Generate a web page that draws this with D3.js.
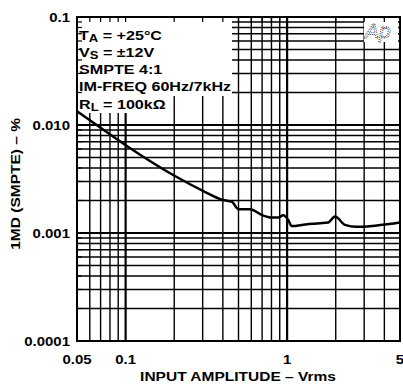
<!DOCTYPE html>
<html>
<head>
<meta charset="utf-8">
<script src="https://cdn.jsdelivr.net/npm/d3@7"></script>
<style>
  body { margin: 0; background: #fff; }
  svg { display: block; }
  text { font-family: "Liberation Sans", Arial, sans-serif; font-weight: bold; fill: #000; }
</style>
</head>
<body>
<div class="chart"></div>
<script>
// curve
const ampVrms = [0.05, 0.0662, 0.1034, 0.202, 0.301, 0.401, 0.454, 0.5, 0.589, 0.696, 0.803, 0.882, 0.947, 1.016, 1.067, 1.3, 1.6, 1.798, 1.98, 2.28, 2.7, 3.5, 4.3, 5];
const imdPct  = [0.0134, 0.0100, 0.0063, 0.00337, 0.00246, 0.00202, 0.00195, 0.00166, 0.00166, 0.00147, 0.00139, 0.00139, 0.00146, 0.00132, 0.00116, 0.0012, 0.00123, 0.00125, 0.00142, 0.00119, 0.00114, 0.00117, 0.00121, 0.00125];

// axis labels
const xTickVals = [0.05, 0.1, 1, 5];
const xTickText = ["0.05", "0.1", "1", "5"];
const yTickVals = [0.0001, 0.001, 0.01, 0.1];
const yTickText = ["0.0001", "0.001", "0.010", "0.1"];

const noteLines = [
  [["T", ""], ["A", "sub"], [" = +25°C", ""]],
  [["V", ""], ["S", "sub"], [" = ±12V", ""]],
  [["SMPTE 4:1", ""]],
  [["IM-FREQ 60Hz/7kHz", ""]],
  [["R", ""], ["L", "sub"], [" = 100kΩ", ""]]
];

const W = 403, H = 386;
const L = 77, R = 400, T = 17, B = 341;

const svg = d3.select(".chart").append("svg")
  .attr("width", W).attr("height", H);

const x = d3.scaleLog().domain([0.05, 5]).range([L, R]);
const y = d3.scaleLog().domain([0.0001, 0.1]).range([B, T]);

const isMajor = v => Math.abs(Math.log10(v) - Math.round(Math.log10(v))) < 1e-6;

// text in the original is a wide Helvetica, so stretch it a bit
function place(px, py, sx, rot) {
  return `translate(${px},${py})` + (rot ? ` rotate(${rot})` : "") + ` scale(${sx},1)`;
}

// grid
const gx = x.ticks().filter(v => v > 0.05 && v < 5);
const gy = y.ticks().filter(v => v > 0.0001 && v < 0.1);

svg.append("g").selectAll("line").data(gx).join("line")
  .attr("x1", d => x(d)).attr("x2", d => x(d))
  .attr("y1", T).attr("y2", B)
  .attr("stroke", "#000").attr("stroke-width", d => isMajor(d) ? 2.2 : 1.4);

svg.append("g").selectAll("line").data(gy).join("line")
  .attr("y1", d => y(d)).attr("y2", d => y(d))
  .attr("x1", L).attr("x2", R)
  .attr("stroke", "#000").attr("stroke-width", d => isMajor(d) ? 2.2 : 1.4);

// white boxes behind the notes and the logo
svg.append("rect").attr("x", L).attr("y", T).attr("width", 232 - L).attr("height", 96 - T).attr("fill", "#fff");
svg.append("rect").attr("x", L).attr("y", 96).attr("width", 173 - L).attr("height", 17).attr("fill", "#fff");
svg.append("rect").attr("x", 364).attr("y", T + 2).attr("width", 34).attr("height", 23).attr("fill", "#fff");

// short inward ticks along top and left
const tk = svg.append("g").attr("stroke", "#000").attr("stroke-width", 1.2);
tk.selectAll(".tt").data(gx).join("line").attr("class", "tt")
  .attr("x1", d => x(d)).attr("x2", d => x(d)).attr("y1", T).attr("y2", T + 5);
tk.selectAll(".tl").data(gy).join("line").attr("class", "tl")
  .attr("y1", d => y(d)).attr("y2", d => y(d)).attr("x1", L).attr("x2", L + 5);

// frame
svg.append("rect").attr("x", L).attr("y", T).attr("width", R - L).attr("height", B - T)
  .attr("fill", "none").attr("stroke", "#000").attr("stroke-width", 2);

// curve
const pts = ampVrms.map((v, i) => [v, imdPct[i]]);
svg.append("path").datum(pts)
  .attr("fill", "none").attr("stroke", "#000").attr("stroke-width", 2.5)
  .attr("d", d3.line().x(d => x(d[0])).y(d => y(d[1])).curve(d3.curveMonotoneX));

// notes
noteLines.forEach((parts, i) => {
  const t = svg.append("text").attr("transform", place(79, 39.5 + i * 17.3, 1.24)).attr("font-size", 13);
  parts.forEach((p, j) => {
    const s = t.append("tspan").text(p[0]);
    if (p[1] === "sub") s.attr("font-size", 10.5).attr("dy", 2.5);
    else if (j > 0) s.attr("dy", -2.5);
  });
});

// logo
svg.append("text").attr("x", 365).attr("y", 38).attr("font-size", 21)
  .style("font-style", "italic").style("font-weight", "normal")
  .style("fill", "#fff").attr("stroke", "#000").attr("stroke-width", 0.8)
  .attr("stroke-dasharray", "1,1").text("Ap");

// tick labels
svg.append("g").selectAll("text").data(xTickVals).join("text")
  .attr("transform", d => place(x(d), 364, 1.15)).attr("text-anchor", "middle")
  .attr("font-size", 13).text((d, i) => xTickText[i]);

svg.append("g").selectAll("text").data(yTickVals).join("text")
  .attr("transform", d => place(70, y(d), 1.15)).attr("dy", "0.35em").attr("text-anchor", "end")
  .attr("font-size", 13).text((d, i) => yTickText[i]);

// axis titles
svg.append("text").attr("transform", place(238, 381, 1.24)).attr("text-anchor", "middle")
  .attr("font-size", 12.5).text("INPUT AMPLITUDE – Vrms");

svg.append("text").attr("transform", place(20, 118, 1.24, -90))
  .attr("text-anchor", "end").attr("font-size", 12.5).text("1MD (SMPTE) – %");
</script>
</body>
</html>
